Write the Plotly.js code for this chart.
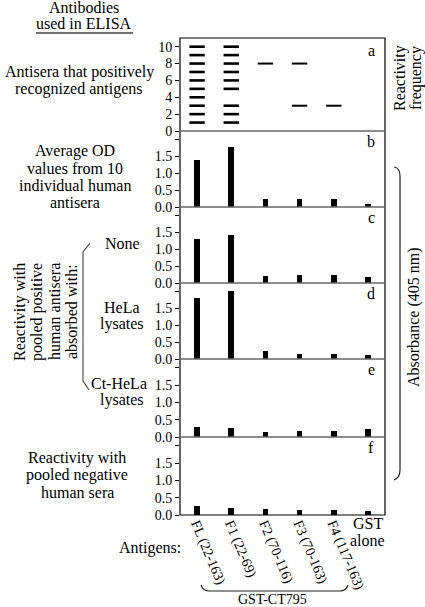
<!DOCTYPE html>
<html>
<head>
<meta charset="utf-8">
<script src="https://cdn.plot.ly/plotly-3.0.1.min.js"></script>
<style>
  html, body { margin: 0; padding: 0; background: #fff; }
  #chart { width: 425px; height: 607px; }
</style>
</head>
<body>
<div id="chart"></div>
<script>
// ---------- data ----------
const categories = ['FL (22-163)', 'F1 (22-69)', 'F2 (70-116)', 'F3 (70-163)', 'F4 (117-163)', 'GST alone'];

// panel a: antisera (1..10) that positively recognized each antigen
const freqFL  = [1, 2, 3, 4, 5, 6, 7, 8, 9, 10];
const freqF1  = [1, 2, 3, 5, 6, 7, 8, 9, 10];
const freqF2  = [8];
const freqF3  = [3, 8];
const freqF4  = [3];
const freqGST = [];

// panels b-f: absorbance (405 nm)
const avgOD10     = [1.40, 1.77, 0.23, 0.25, 0.25, 0.08];  // b
const absNone     = [1.31, 1.42, 0.21, 0.23, 0.23, 0.19];  // c
const absHeLa     = [1.80, 2.01, 0.24, 0.15, 0.15, 0.13];  // d
const absCtHeLa   = [0.30, 0.25, 0.15, 0.18, 0.18, 0.22];  // e
const negSera     = [0.27, 0.19, 0.17, 0.15, 0.15, 0.12];  // f

const freqTicks = [0, 2, 4, 6, 8, 10];
const odTickVals = [0, 0.5, 1.0, 1.5, 2.0];
const odTickText = ['0.0', '0.5', '1.0', '1.5', ''];
const panelLetters = ['a', 'b', 'c', 'd', 'e', 'f'];

// ---------- geometry helpers (pixel -> paper) ----------
const L = 180, R = 385, T = 38, B = 515;
const X = px => (px - L) / (R - L);
const Y = py => (B - py) / (B - T);

const FONT = '"Liberation Serif", "Times New Roman", Times, serif';
const LBL = 16;

// panel pixel boundaries (top to bottom)
const bounds = [38, 131, 207, 283, 359, 437, 515];
const domains = [];
for (let i = 0; i < 6; i++) domains.push([Y(bounds[i + 1]), Y(bounds[i])]);

// ---------- traces ----------
const traces = [];
function dashTrace(catIdx, vals, w) {
  return {
    type: 'scatter', mode: 'markers',
    x: vals.map(() => categories[catIdx]), y: vals,
    xaxis: 'x', yaxis: 'y',
    marker: { symbol: 'line-ew', size: 11, color: '#000', line: { color: '#000', width: w } },
    hoverinfo: 'skip', showlegend: false
  };
}
traces.push(dashTrace(0, freqFL, 2.6));
traces.push(dashTrace(1, freqF1, 2.6));
traces.push(dashTrace(2, freqF2, 2));
traces.push(dashTrace(3, freqF3, 2));
traces.push(dashTrace(4, freqF4, 2));
traces.push(dashTrace(5, freqGST, 2));

const odSeries = [avgOD10, absNone, absHeLa, absCtHeLa, negSera];
odSeries.forEach((vals, i) => {
  traces.push({
    type: 'bar', x: categories, y: vals,
    xaxis: 'x', yaxis: 'y' + (i + 2),
    width: 0.17, marker: { color: '#000', line: { width: 0 } },
    hoverinfo: 'skip', showlegend: false
  });
});

// ---------- layout ----------
const layout = {
  width: 425, height: 607,
  margin: { l: L, r: 425 - R, t: T, b: 607 - B, pad: 0 },
  paper_bgcolor: '#fff', plot_bgcolor: '#fff',
  font: { family: FONT, color: '#000', size: LBL },
  showlegend: false,
  bargap: 0,
  xaxis: {
    type: 'category', categoryarray: categories, categoryorder: 'array',
    range: [-0.5, 5.5], anchor: 'y6',
    tickvals: categories.slice(0, 5), ticktext: categories.slice(0, 5),
    tickangle: 67, ticks: '', showline: false, showgrid: false, zeroline: false,
    ticklabelstandoff: -3,
    tickfont: { family: FONT, size: 14, color: '#000' }
  },
  annotations: [],
  shapes: []
};

const yCommon = {
  anchor: 'x', ticks: 'outside', ticklen: 4, tickwidth: 1, tickcolor: '#000',
  showline: false, showgrid: false, zeroline: false,
  tickfont: { family: FONT, size: 14, color: '#000' }
};
layout.yaxis = Object.assign({}, yCommon, {
  domain: domains[0], range: [0, 11.03], tickvals: freqTicks, ticktext: freqTicks.map(String)
});
for (let i = 2; i <= 6; i++) {
  layout['yaxis' + i] = Object.assign({}, yCommon, {
    domain: domains[i - 1], range: [0, 2.25], tickvals: odTickVals, ticktext: odTickText
  });
}

// frame and separators
layout.shapes.push({ type: 'rect', xref: 'paper', yref: 'paper', x0: 0, x1: 1, y0: 0, y1: 1,
  line: { color: '#000', width: 1.2 } });
for (let i = 1; i < 6; i++) {
  layout.shapes.push({ type: 'line', xref: 'paper', yref: 'paper', x0: 0, x1: 1,
    y0: Y(bounds[i]), y1: Y(bounds[i]), line: { color: '#666', width: 1.5 } });
}
// underline under "used in ELISA"
layout.shapes.push({ type: 'line', xref: 'paper', yref: 'paper',
  x0: X(36), x1: X(133), y0: Y(33), y1: Y(33), line: { color: '#444', width: 1.3 } });
// right brace (Absorbance)
const P = (x, y) => X(x).toFixed(4) + ',' + Y(y).toFixed(4);
layout.shapes.push({ type: 'path', xref: 'paper', yref: 'paper',
  path: 'M' + P(394, 167) + ' Q' + P(400, 168) + ' ' + P(400, 176) + ' L' + P(400, 470) +
        ' Q' + P(400, 478) + ' ' + P(394, 480),
  line: { color: '#222', width: 1.2 } });
// left bracket (absorbed with)
layout.shapes.push({ type: 'path', xref: 'paper', yref: 'paper',
  path: 'M' + P(90, 243) + ' L' + P(83, 252) + ' L' + P(83, 381) + ' L' + P(89, 390),
  line: { color: '#555', width: 1.2 } });
// bottom brace (GST-CT795)
layout.shapes.push({ type: 'path', xref: 'paper', yref: 'paper',
  path: 'M' + P(201, 585) + ' Q' + P(203, 591) + ' ' + P(209, 591) + ' L' + P(340, 591) +
        ' Q' + P(346, 591) + ' ' + P(348, 585),
  line: { color: '#222', width: 1.2 } });

// text helper
function txt(text, px, py, opts) {
  layout.annotations.push(Object.assign({
    text: text, xref: 'paper', yref: 'paper', x: X(px), y: Y(py),
    xanchor: 'center', yanchor: 'middle', showarrow: false,
    font: { family: FONT, size: LBL, color: '#000' }
  }, opts || {}));
}

// left column labels
txt('Antibodies', 84, 7);
txt('used in ELISA', 84, 24);
txt('Antisera that positively', 79, 72);
txt('recognized antigens', 79, 89);
txt('Average OD', 75, 151);
txt('values from 10', 75, 168);
txt('individual human', 75, 185);
txt('antisera', 75, 202);
txt('None', 122, 243);
txt('HeLa', 122, 307);
txt('lysates', 122, 324);
txt('Ct-HeLa', 119, 383);
txt('lysates', 122, 400);
txt('Reactivity with', 20, 312, { textangle: -90 });
txt('pooled positive', 37, 312, { textangle: -90 });
txt('human antisera', 54, 312, { textangle: -90 });
txt('absorbed with:', 71, 312, { textangle: -90 });
txt('Reactivity with', 77, 458);
txt('pooled negative', 77, 475);
txt('human sera', 77, 492);
txt('Antigens:', 150, 548);
txt('GST-CT795', 272, 599, { font: { family: FONT, size: 14, color: '#000' } });

// right-side labels
txt('Reactivity', 400, 78, { textangle: -90 });
txt('frequency', 416, 78, { textangle: -90 });
txt('Absorbance (405 nm)', 414, 317, { textangle: -90 });

// GST alone (horizontal category label)
layout.annotations.push({
  text: 'GST', xref: 'x', yref: 'paper', x: categories[5], y: Y(523),
  xanchor: 'center', yanchor: 'middle', showarrow: false,
  font: { family: FONT, size: LBL, color: '#000' }
});
layout.annotations.push({
  text: 'alone', xref: 'x', yref: 'paper', x: categories[5], y: Y(540),
  xanchor: 'center', yanchor: 'middle', showarrow: false,
  font: { family: FONT, size: LBL, color: '#000' }
});

// panel letters
const letterY = [50, 141, 217, 293, 370, 447];
panelLetters.forEach((l, i) => txt(l, 371, letterY[i]));

Plotly.newPlot('chart', traces, layout, { displayModeBar: false, staticPlot: true });
</script>
</body>
</html>
